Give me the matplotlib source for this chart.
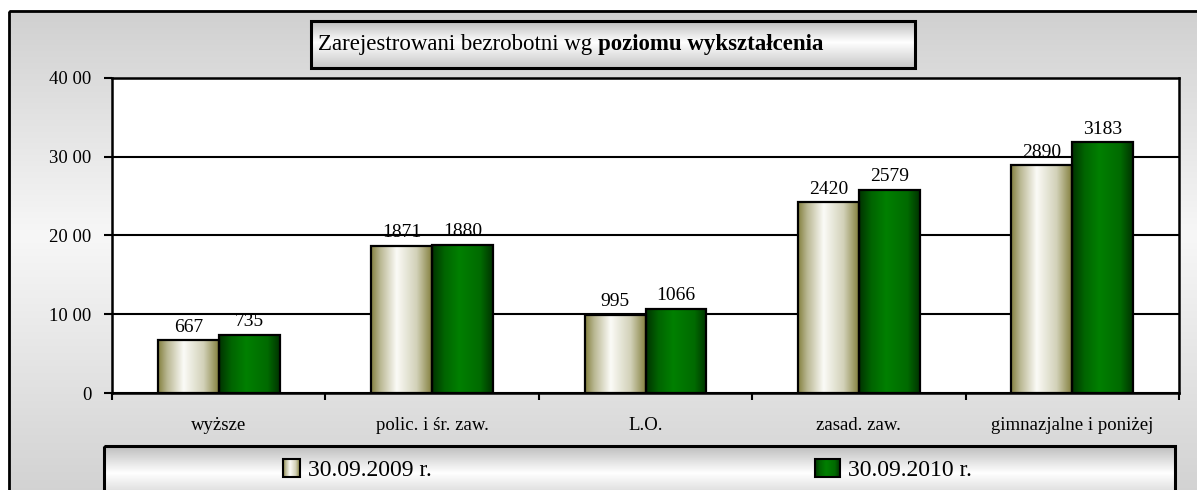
import numpy as np
import matplotlib
matplotlib.use("Agg")
import matplotlib.pyplot as plt
from matplotlib.patches import Rectangle
from matplotlib.colors import LinearSegmentedColormap

categories = ["wyższe", "polic. i śr. zaw.", "L.O.", "zasad. zaw.", "gimnazjalne i poniżej"]
series_names = ["30.09.2009 r.", "30.09.2010 r."]
values_2009 = [667, 1871, 995, 2420, 2890]
values_2010 = [735, 1880, 1066, 2579, 3183]
yticks = [0, 1000, 2000, 3000, 4000]
ytick_labels = ["0", "10 00", "20 00", "30 00", "40 00"]

plt.rcParams["font.family"] = ["Liberation Serif", "DejaVu Serif"]

# gradients (imitating the old Excel fill effects)
olive = LinearSegmentedColormap.from_list(
    "olive", [(0, "#84803f"), (0.15, "#b9b792"), (0.42, "#fbfbf7"), (0.75, "#d2d1b8"), (1, "#84803f")])
green = LinearSegmentedColormap.from_list(
    "green", [(0, "#003300"), (0.2, "#006400"), (0.45, "#008000"), (0.8, "#006a00"), (1, "#003300")])
back = LinearSegmentedColormap.from_list(
    "back", [(0, "#d0d0d0"), (0.45, "#f7f7f7"), (0.85, "#dadada"), (1, "#d0d0d0")])
boxg = LinearSegmentedColormap.from_list(
    "boxg", [(0, "#bdbdbd"), (0.45, "#ffffff"), (1, "#c6c6c6")])
ramp = np.linspace(0, 1, 256)

fig = plt.figure(figsize=(11.97, 4.9), dpi=100)
fig.patch.set_facecolor("white")

# background layer in pixel coordinates
bg = fig.add_axes([0, 0, 1, 1], zorder=0)
bg.axis("off")


def grad_box(x0, y0, w, h, cmap, lw):
    bg.imshow(ramp[:, None], cmap=cmap, extent=(x0, x0 + w, y0 + h, y0),
              aspect="auto", origin="upper", zorder=1)
    bg.add_patch(Rectangle((x0, y0), w, h, fill=False, ec="black", lw=lw, zorder=2))


grad_box(9, 11, 1200, 500, back, 2.0)
grad_box(311, 21, 604, 47, boxg, 2.2)
grad_box(104, 446, 1071, 60, boxg, 2.2)

t1 = bg.text(318, 50, "Zarejestrowani bezrobotni wg ", fontsize=16.5, va="baseline", ha="left", zorder=3)
bg.annotate("poziomu wykształcenia", xy=(1, 0), xycoords=t1, fontsize=16.5, fontweight="bold",
            va="bottom", ha="left", zorder=3)

# legend
legend_pos = [(283, 17), (815, 25)]
for (lx, lw_), cmap, name in zip(legend_pos, [olive, green], series_names):
    bg.imshow(ramp[None, :], cmap=cmap, extent=(lx, lx + lw_, 477, 459),
              aspect="auto", origin="upper", zorder=3)
    bg.add_patch(Rectangle((lx, 459), lw_, 18, fill=False, ec="black", lw=1.5, zorder=4))
    bg.text(lx + lw_ + 8, 476, name, fontsize=17, va="baseline", ha="left", zorder=4)
bg.set_xlim(0, 1197)
bg.set_ylim(490, 0)

# main chart
ax = fig.add_axes([112 / 1197, (490 - 393) / 490, (1179 - 112) / 1197, (393 - 78) / 490], zorder=1)
ax.set_facecolor("white")
x = np.arange(len(categories))
w = 0.285
b1 = ax.bar(x - w / 2, values_2009, w, facecolor="none", edgecolor="black", lw=1.6, zorder=3)
b2 = ax.bar(x + w / 2, values_2010, w, facecolor="none", edgecolor="black", lw=1.6, zorder=3)

for bars, cmap, vals in [(b1, olive, values_2009), (b2, green, values_2010)]:
    for bar, v in zip(bars, vals):
        x0 = bar.get_x()
        x1 = x0 + bar.get_width()
        im = ax.imshow(ramp[None, :], cmap=cmap, extent=(x0, x1, 0, v),
                       aspect="auto", zorder=2)
        im.set_clip_path(bar)
        ax.text((x0 + x1) / 2, v + 60, f"{v}", ha="center", va="bottom", fontsize=14, zorder=4)

ax.set_xlim(-0.5, len(categories) - 0.5)
ax.set_ylim(0, 4000)
ax.set_yticks(yticks)
ax.set_yticklabels(ytick_labels, fontsize=13.5)
ax.yaxis.grid(True, color="black", lw=1.5, zorder=0.5)
ax.set_axisbelow(True)
ax.tick_params(axis="y", length=6, width=1.5, pad=9, direction="out")

ax.set_xticks(x)
ax.set_xticklabels(categories, fontsize=13.5)
ax.set_xticks(np.arange(len(categories) + 1) - 0.5, minor=True)
ax.tick_params(axis="x", which="major", length=0, pad=17)
ax.tick_params(axis="x", which="minor", length=5, width=1.5, direction="out")
for s in ax.spines.values():
    s.set_linewidth(1.8)
    s.set_color("black")

fig.savefig("out.png", dpi=100)
